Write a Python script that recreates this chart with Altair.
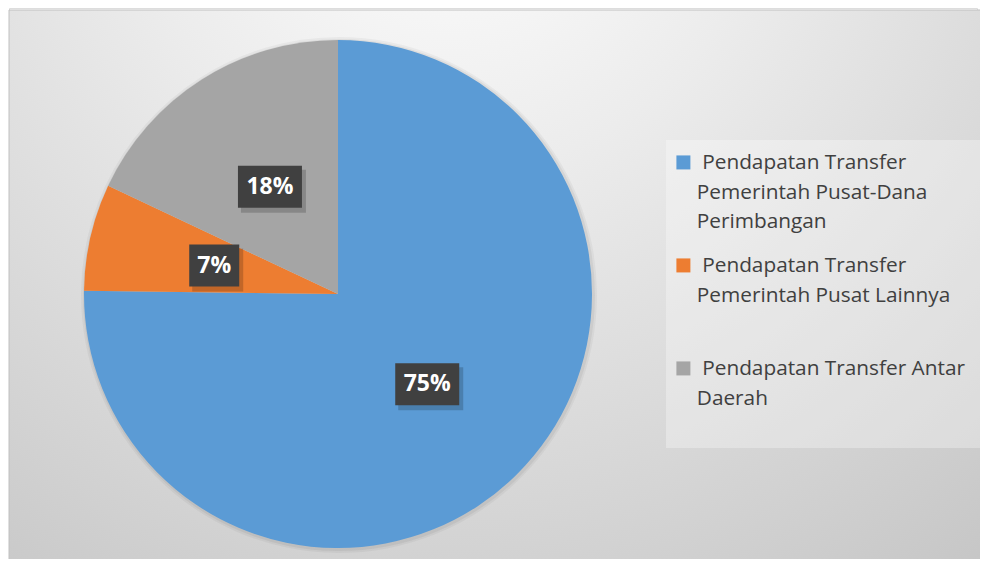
import altair as alt
import pandas as pd

# ---- data ----
categories = [
    "Pendapatan Transfer Pemerintah Pusat-Dana Perimbangan",
    "Pendapatan Transfer Pemerintah Pusat Lainnya",
    "Pendapatan Transfer Antar Daerah",
]
values = [75.2, 6.8, 18.0]
labels = ["75%", "7%", "18%"]
legend_lines = [
    ["\u200b\u00a0Pendapatan Transfer", "Pemerintah Pusat-Dana", "Perimbangan"],
    ["\u200b\u00a0Pendapatan Transfer", "Pemerintah Pusat Lainnya", ""],
    ["\u200b\u00a0Pendapatan Transfer Antar", "Daerah", ""],
]
colors = ["#5B9BD5", "#ED7D31", "#A5A5A5"]

df = pd.DataFrame({"category": categories, "value": values,
                   "label": labels, "ord": list(range(len(categories)))})

W, H = 972, 551
CX, CY, R, LR = 329, 286, 254, 127

# legend label expression (multi-line)
parts = []
for c, lines in zip(categories, legend_lines):
    arr = ",".join("'" + s + "'" for s in lines)
    parts.append(f"datum.label == '{c}' ? [{arr}]")
label_expr = " : ".join(parts) + " : datum.label"

one = pd.DataFrame({"a": [0]})

bg = alt.Chart(one).mark_rect(
    color={"gradient": "radial",
           "x1": 0.45, "y1": 0.05, "r1": 0.0,
           "x2": 0.45, "y2": 0.05, "r2": 0.95,
           "stops": [{"offset": 0, "color": "#ffffff"},
                     {"offset": 0.35, "color": "#ececec"},
                     {"offset": 1, "color": "#c4c4c4"}]},
    stroke="#c0c0c0", strokeWidth=1,
).encode(x=alt.value(0), x2=alt.value(W + 2), y=alt.value(2), y2=alt.value(H + 5))

legend_box = alt.Chart(one).mark_rect(color="#ffffff", opacity=0.3).encode(
    x=alt.value(657), x2=alt.value(W + 2), y=alt.value(132), y2=alt.value(440))

pie_shadow1 = alt.Chart(df).mark_arc(radius=R + 4, color="#000000", opacity=0.04).encode(
    theta=alt.Theta("value:Q", stack=True), order=alt.Order("ord:Q"),
    x=alt.value(CX + 1), y=alt.value(CY + 1))
pie_shadow2 = alt.Chart(df).mark_arc(radius=R + 2, color="#000000", opacity=0.05).encode(
    theta=alt.Theta("value:Q", stack=True), order=alt.Order("ord:Q"),
    x=alt.value(CX + 1), y=alt.value(CY + 1))

pie = alt.Chart(df).mark_arc(radius=R).encode(
    theta=alt.Theta("value:Q", stack=True),
    color=alt.Color(
        "category:N",
        sort=categories,
        scale=alt.Scale(domain=categories, range=colors),
        legend=alt.Legend(
            title=None, orient="none", legendX=664, legendY=135,
            labelFont="Open Sans", labelFontSize=20.8, labelColor="#404040",
            labelLimit=0, labelExpr=label_expr, labelBaseline="top",
            labelOffset=3,
            symbolType="M-1,0.29L1,0.29L1,2.29L-1,2.29Z",
            symbolSize=196, symbolStrokeWidth=0, symbolOpacity=1,
            rowPadding=13, padding=0, symbolOffset=0,
        ),
    ),
    order=alt.Order("ord:Q"),
    x=alt.value(CX), y=alt.value(CY),
)

lab = alt.Chart(df).transform_joinaggregate(
    total="sum(value)"
).transform_window(
    cum="sum(value)", sort=[alt.SortField("ord")], frame=[None, 0]
).transform_calculate(
    mid="(datum.cum - datum.value/2) / datum.total * 2 * PI",
    px=f"{CX} + {LR} * sin(datum.mid)",
    py=f"{CY} - {LR} * cos(datum.mid)",
    bw="14 * length(datum.label) + 22",
    x1="datum.px - datum.bw/2", x2="datum.px + datum.bw/2",
    y1="datum.py - 21", y2="datum.py + 21",
    sx1="datum.x1 + 3", sx2="datum.x2 + 4", sy1="datum.y1 + 4", sy2="datum.y2 + 5",
)

shadow = lab.mark_rect(color="#000000", opacity=0.18).encode(
    x=alt.X("sx1:Q", scale=None, axis=None), x2="sx2:Q",
    y=alt.Y("sy1:Q", scale=None, axis=None), y2="sy2:Q")
box = lab.mark_rect(color="#404040").encode(
    x=alt.X("x1:Q", scale=None, axis=None), x2="x2:Q",
    y=alt.Y("y1:Q", scale=None, axis=None), y2="y2:Q")
txt = lab.mark_text(color="#ffffff", font="Open Sans", fontWeight="bold",
                    fontSize=23, baseline="middle", align="center").encode(
    x=alt.X("px:Q", scale=None, axis=None),
    y=alt.Y("py:Q", scale=None, axis=None),
    text="label:N")

chart = alt.layer(bg, legend_box, pie_shadow1, pie_shadow2, pie, shadow, box, txt).properties(
    width=W, height=H, padding=0,
    autosize=alt.AutoSizeParams(type="fit", contains="padding"),
).configure_view(stroke=None).configure_legend(gridAlign="all").configure(
    style={"guide-label": {"lineHeight": 29.5}}
)

chart.save("out.html", embed_options={"renderer": "svg", "actions": False})
